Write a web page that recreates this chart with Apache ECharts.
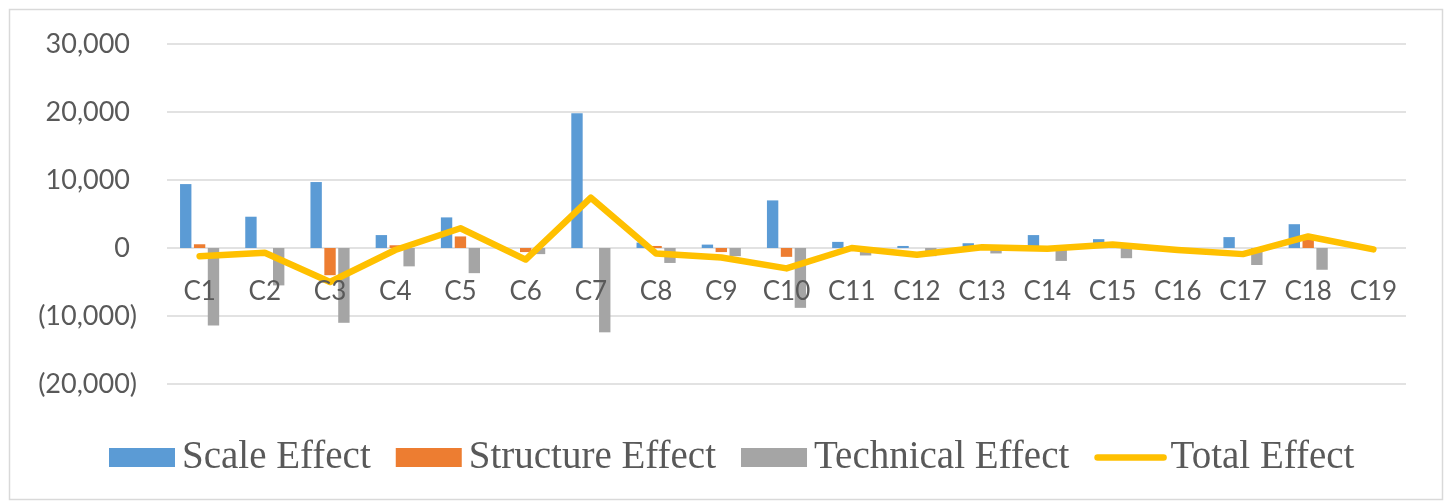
<!DOCTYPE html>
<html>
<head>
<meta charset="utf-8">
<script src="https://cdn.jsdelivr.net/npm/echarts@6/dist/echarts.min.js"></script>
<style>
html,body{margin:0;padding:0;background:#fff;}
#chart{width:1447px;height:504px;}
</style>
</head>
<body>
<div id="chart"></div>
<script>
const categories = ['C1','C2','C3','C4','C5','C6','C7','C8','C9','C10','C11','C12','C13','C14','C15','C16','C17','C18','C19'];
const scaleEffect = [9400, 4600, 9700, 1900, 4500, 0, 19800, 800, 500, 7000, 900, 300, 700, 1900, 1300, 0, 1600, 3500, 0];
const structureEffect = [550, 0, -4000, 400, 1700, -600, 0, 300, -600, -1300, 200, 0, 0, 0, 600, 0, 0, 1200, 0];
const technicalEffect = [-11400, -5500, -11000, -2700, -3700, -900, -12400, -2200, -1200, -8800, -1100, -1200, -800, -1900, -1500, -300, -2500, -3200, 0];
const totalEffect = [-1200, -700, -5000, -300, 2900, -1700, 7400, -800, -1400, -3000, 0, -1000, 100, -100, 500, -300, -900, 1700, -200];
const yMin = -20000, yMax = 30000, yStep = 10000;

const chart = echarts.init(document.getElementById('chart'));
const axisFont = 'Lato, "Open Sans", sans-serif';
function fmt(v){
  const s = Math.abs(v).toLocaleString('en-US');
  return v < 0 ? '{n|(' + s + ')}' : '{p|' + s + '}';
}
const gridTop = 44, gridBottom = 120, chartH = 504;
const plotH = chartH - gridTop - gridBottom;
const zeroOffset = -plotH * (0 - yMin) / (yMax - yMin);

chart.setOption({
  animation: false,
  graphic: [{
    type: 'rect', left: 7, top: 7,
    shape: {width: 1433, height: 490},
    style: {fill: 'none', stroke: '#D9D9D9', lineWidth: 1.5},
    silent: true
  }],
  grid: {left: 167, right: 41, top: gridTop, bottom: gridBottom, containLabel: false},
  legend: {
    left: 104, top: 433,
    itemWidth: 66, itemHeight: 19, itemGap: 25,
    textStyle: {fontFamily: '"Liberation Serif", "Times New Roman", serif', fontSize: 39, color: '#595959', padding: [0, 0, 0, 2]},
    data: [
      {name: 'Scale Effect', icon: 'rect'},
      {name: 'Structure Effect', icon: 'rect'},
      {name: 'Technical Effect', icon: 'rect'},
      {name: 'Total Effect', lineStyle: {width: 6.5, color: '#FFC000'},
       itemStyle: {opacity: 0, color: 'rgba(0,0,0,0)', borderColor: 'rgba(0,0,0,0)', borderWidth: 0}}
    ]
  },
  xAxis: {
    type: 'category', data: categories,
    offset: zeroOffset,
    z: 10,
    axisLine: {show: false, onZero: false},
    axisTick: {show: false},
    axisLabel: {fontFamily: axisFont, fontSize: 26, color: '#595959', margin: 31, interval: 0},
    splitLine: {show: false}
  },
  yAxis: {
    type: 'value', min: yMin, max: yMax, interval: yStep,
    axisLine: {show: false}, axisTick: {show: false},
    axisLabel: {
      fontFamily: axisFont, fontSize: 27, color: '#595959', margin: 30, formatter: fmt,
      rich: {
        p: {fontFamily: axisFont, fontSize: 27, color: '#595959', padding: [0, 7, 0, 0]},
        n: {fontFamily: axisFont, fontSize: 27, color: '#595959'}
      }
    },
    splitLine: {lineStyle: {color: '#D9D9D9', width: 1.5}}
  },
  series: [
    {name: 'Scale Effect', type: 'bar', data: scaleEffect, barGap: '22%', barCategoryGap: '40%', itemStyle: {color: '#5B9BD5'}},
    {name: 'Structure Effect', type: 'bar', data: structureEffect, itemStyle: {color: '#ED7D31'}},
    {name: 'Technical Effect', type: 'bar', data: technicalEffect, itemStyle: {color: '#A5A5A5'}},
    {name: 'Total Effect', type: 'line', data: totalEffect, symbol: 'none', z: 5,
     lineStyle: {color: '#FFC000', width: 6.5, cap: 'round', join: 'round'}, itemStyle: {color: '#FFC000'}}
  ]
});
</script>
</body>
</html>
